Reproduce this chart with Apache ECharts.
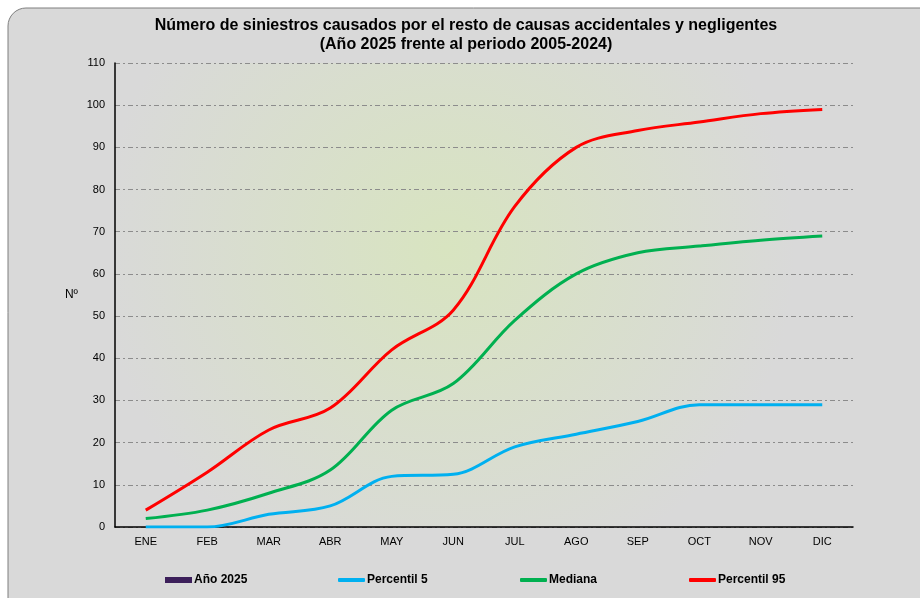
<!DOCTYPE html>
<html>
<head>
<meta charset="utf-8">
<script src="https://cdn.jsdelivr.net/npm/echarts@6/dist/echarts.min.js"></script>
<style>
  html, body { margin: 0; padding: 0; background: #fff; }
  #chart { width: 920px; height: 598px; }
</style>
</head>
<body>
<div id="chart"></div>
<script>
  const months = ["ENE", "FEB", "MAR", "ABR", "MAY", "JUN", "JUL", "AGO", "SEP", "OCT", "NOV", "DIC"];
  const year2025 = [];
  const p5 = [0, 0, 3, 5, 12, 12.5, 19, 22, 25, 29, 29, 29];
  const median = [2, 4, 8, 13.5, 27.7, 34, 49, 60, 65, 66.6, 68, 69];
  const p95 = [4, 13, 23, 28.2, 42, 51.4, 76, 90, 94, 96, 98, 99];

  const font = "'Liberation Sans', Arial, sans-serif";
  const chart = echarts.init(document.getElementById("chart"), null, { renderer: "canvas" });

  function lineSeries(name, data, color) {
    return {
      name: name,
      type: "line",
      data: data,
      smooth: 0.35,
      symbol: "none",
      lineStyle: { color: color, width: 3 },
      itemStyle: { color: color }
    };
  }

  // one legend per entry, Excel spaces them unevenly
  function legendAt(left, name, icon, height) {
    return {
      left: left,
      top: 569,
      itemWidth: 27,
      itemHeight: height,
      textStyle: { fontFamily: font, fontWeight: "bold", fontSize: 12, color: "#000", padding: [0, 0, 0, -3] },
      data: [{ name: name, icon: icon }]
    };
  }

  chart.setOption({
    animation: false,
    graphic: [
      {
        type: "rect",
        z: -10,
        shape: { x: 8, y: 8, width: 940, height: 620, r: 18 },
        style: { fill: "#d9d9d9", stroke: "#7f7f7f", lineWidth: 1 }
      }
    ],
    title: {
      text: "Número de siniestros causados por el resto de causas accidentales y negligentes\n(Año 2025 frente al periodo 2005-2024)",
      left: 461,
      top: 11,
      textAlign: "center",
      textStyle: { fontFamily: font, fontWeight: "bold", fontSize: 16, color: "#000", lineHeight: 19 }
    },
    legend: [
      legendAt(160, "Año 2025", "rect", 6),
      legendAt(333, "Percentil 5", "roundRect", 4),
      legendAt(515, "Mediana", "roundRect", 4),
      legendAt(684, "Percentil 95", "roundRect", 4)
    ],
    grid: {
      left: 115,
      right: 67,
      top: 63,
      bottom: 71,
      show: true,
      borderWidth: 0,
      backgroundColor: {
        type: "radial",
        x: 0.45, y: 0.4, r: 0.75,
        colorStops: [
          { offset: 0, color: "#d8e4c0" },
          { offset: 1, color: "#d9d9d9" }
        ]
      }
    },
    xAxis: {
      type: "category",
      data: months,
      boundaryGap: true,
      axisLine: { lineStyle: { color: "#000", width: 1.5 } },
      axisTick: { show: false },
      axisLabel: { fontFamily: font, fontSize: 11, color: "#000", margin: 9 }
    },
    yAxis: {
      type: "value",
      min: 0,
      max: 110,
      interval: 10,
      name: "Nº",
      nameLocation: "middle",
      nameRotate: 0,
      nameGap: 37,
      nameTextStyle: { fontFamily: font, fontSize: 12, color: "#000" },
      axisLine: { show: true, lineStyle: { color: "#000", width: 1.5 } },
      axisTick: { show: false },
      axisLabel: { fontFamily: font, fontSize: 11, color: "#000", margin: 10 },
      splitLine: { lineStyle: { color: "#8c8c8c", type: [5, 3, 2, 3], width: 1 } }
    },
    series: [
      {
        name: "Año 2025",
        type: "bar",
        data: year2025,
        itemStyle: { color: "#3c1f5a" }
      },
      lineSeries("Percentil 5", p5, "#00b0f0"),
      lineSeries("Mediana", median, "#00b050"),
      lineSeries("Percentil 95", p95, "#ff0000")
    ]
  });
</script>
</body>
</html>
